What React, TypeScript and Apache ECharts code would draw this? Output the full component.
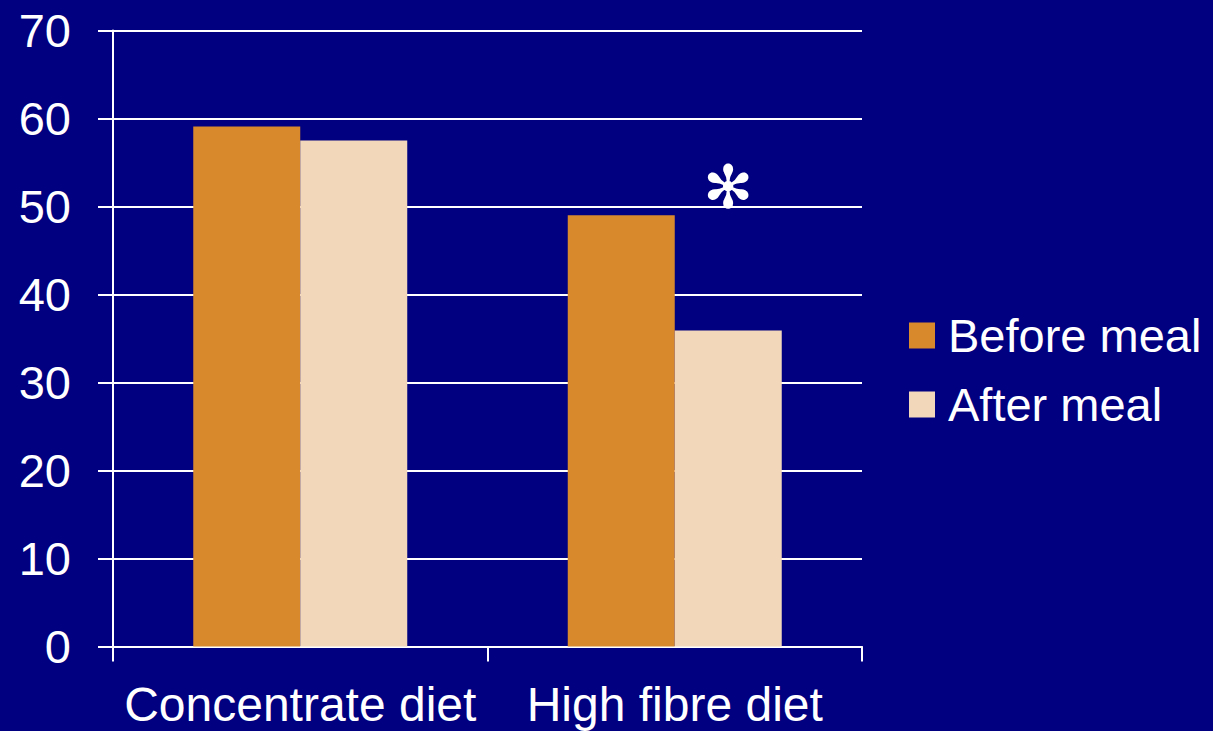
import React, { useEffect, useRef } from "react";
import * as echarts from "echarts";

const categories = ["Concentrate diet", "High fibre diet"];
const beforeMeal = [59.1, 49.0];
const afterMeal = [57.5, 35.9];
const yTicks = { min: 0, max: 70, interval: 10 };
// significance marker above the high fibre "after" bar
const starMark = { category: "High fibre diet", value: 52.2, text: "✻" };

const NAVY = "#000080";
const ORANGE = "#D8892B";
const CREAM = "#F2D7BA";
const FONT = "'Liberation Sans', Arial, sans-serif";

export default function App() {
  const ref = useRef<HTMLDivElement>(null);

  useEffect(() => {
    if (!ref.current) return;
    const chart = echarts.init(ref.current, undefined, { renderer: "svg" });
    chart.setOption({
      animation: false,
      backgroundColor: NAVY,
      grid: { left: 113, right: 351, top: 30.5, bottom: 84.5, containLabel: false },
      legend: {
        orient: "vertical",
        left: 904,
        top: 307,
        itemWidth: 26,
        itemHeight: 26,
        itemGap: 22,
        icon: "rect",
        textStyle: { color: "#fff", fontSize: 47, fontFamily: FONT, lineHeight: 47, padding: [0, 0, 0, 8] },
        data: ["Before meal", "After meal"],
      },
      xAxis: {
        type: "category",
        data: categories,
        axisLine: { show: true, lineStyle: { color: "#fff", width: 2 } },
        axisTick: { show: true, length: 15, alignWithLabel: false, lineStyle: { color: "#fff", width: 2 } },
        axisLabel: { color: "#fff", fontSize: 48, fontFamily: FONT, margin: 34, interval: 0 },
        splitLine: { show: false },
      },
      yAxis: {
        type: "value",
        min: yTicks.min,
        max: yTicks.max,
        interval: yTicks.interval,
        axisLine: { show: true, lineStyle: { color: "#fff", width: 2 } },
        axisTick: { show: true, length: 15, lineStyle: { color: "#fff", width: 2 } },
        axisLabel: { color: "#fff", fontSize: 47, fontFamily: FONT, margin: 42 },
        splitLine: { show: true, lineStyle: { color: "#fff", width: 2 } },
      },
      series: [
        {
          name: "Before meal",
          type: "bar",
          data: beforeMeal,
          barWidth: 107,
          barGap: "0%",
          itemStyle: { color: ORANGE },
        },
        {
          name: "After meal",
          type: "bar",
          data: afterMeal,
          barWidth: 107,
          barGap: "0%",
          itemStyle: { color: CREAM },
          markPoint: {
            symbol: "circle",
            symbolSize: 1,
            itemStyle: { color: "rgba(0,0,0,0)" },
            label: {
              show: true,
              position: "inside",
              formatter: starMark.text,
              color: "#fff",
              fontSize: 60,
              fontFamily: "'DejaVu Sans', sans-serif",
            },
            data: [{ coord: [starMark.category, starMark.value] }],
          },
        },
      ],
    });
    return () => chart.dispose();
  }, []);

  return (
    <div
      ref={ref}
      style={{ position: "absolute", left: 0, top: 0, width: 1213, height: 731 }}
    />
  );
}
